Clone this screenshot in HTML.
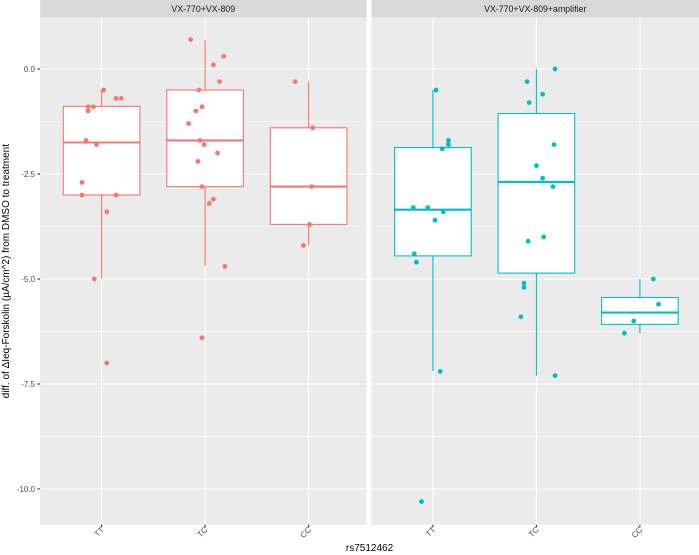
<!DOCTYPE html>
<html><head><meta charset="utf-8">
<style>
html,body{margin:0;padding:0;background:#fff;}
svg{display:block;font-family:"Liberation Sans",sans-serif;}
</style></head>
<body>
<svg id="chart" width="699" height="555" viewBox="0 0 699 555" xmlns="http://www.w3.org/2000/svg"></svg>
<script>
// ---- data ----
const panels = ["VX-770+VX-809", "VX-770+VX-809+amplifier"];
const categories = ["TT", "TC", "CC"];
const yTicks = [0, -2.5, -5, -7.5, -10];
const yTickLabels = ["0.0", "-2.5", "-5.0", "-7.5", "-10.0"];
// box stats per panel: [TT, TC, CC]
const whiskerHigh = [[-0.48, 0.69, -0.30], [-0.50, 0.00, -5.00]];
const q3 = [[-0.89, -0.50, -1.40], [-1.87, -1.06, -5.44]];
const median = [[-1.75, -1.70, -2.80], [-3.35, -2.69, -5.80]];
const q1 = [[-3.00, -2.80, -3.70], [-4.45, -4.86, -6.08]];
const whiskerLow = [[-4.99, -4.69, -4.20], [-7.19, -7.30, -6.29]];
// points
const p0_TT = [-0.5, -0.7, -0.7, -0.9, -0.9, -1.0, -1.7, -1.8, -2.7, -3.0, -3.0, -3.4, -5.0, -7.0];
const j0_TT = [0.02, 0.14, 0.19, -0.13, -0.08, -0.13, -0.15, -0.05, -0.19, -0.19, 0.14, 0.05, -0.07, 0.05];
const p0_TC = [0.7, 0.3, 0.1, -0.3, -0.5, -0.9, -1.0, -1.3, -1.7, -1.8, -2.0, -2.2, -2.8, -3.1, -3.2, -4.7, -6.4];
const j0_TC = [-0.14, 0.18, 0.08, 0.14, -0.06, -0.03, -0.09, -0.16, -0.05, -0.01, 0.12, -0.07, -0.03, 0.08, 0.04, 0.19, -0.03];
const p0_CC = [-0.3, -1.4, -2.8, -3.7, -4.2];
const j0_CC = [-0.13, 0.04, 0.03, 0.01, -0.05];
const p1_TT = [-0.5, -1.7, -1.8, -1.9, -3.3, -3.3, -3.4, -3.6, -4.4, -4.6, -7.2, -10.3];
const j1_TT = [0.03, 0.15, 0.15, 0.09, -0.19, -0.05, 0.10, 0.02, -0.18, -0.16, 0.07, -0.11];
const p1_TC = [0.0, -0.3, -0.6, -0.8, -1.8, -2.3, -2.6, -2.8, -4.0, -4.1, -5.1, -5.2, -5.9, -7.3];
const j1_TC = [0.18, -0.09, 0.06, -0.07, 0.17, 0.0, 0.06, 0.16, 0.07, -0.08, -0.12, -0.12, -0.15, 0.18];
const p1_CC = [-5.0, -5.6, -6.0, -6.29];
const j1_CC = [0.13, 0.18, -0.06, -0.15];
const points = [[p0_TT, p0_TC, p0_CC], [p1_TT, p1_TC, p1_CC]];
const jitters = [[j0_TT, j0_TC, j0_CC], [j1_TT, j1_TC, j1_CC]];

// ---- layout ----
const NS = "http://www.w3.org/2000/svg";
const svg = document.getElementById("chart");
const colors = ["#F8766D", "#00BFC4"];
const panelX = [[40.1, 366.5], [371.4, 699]];
const plotTop = 17.5, plotBot = 524.7, stripTop = 0;
const catStep = 103.5, catPad = 61.5;
function y(v) { return 69 + (0 - v) * 42; }
function x(p, c) { return panelX[p][0] + catPad + c * catStep; }
function mk(tag, attrs, parent) {
  const e = document.createElementNS(NS, tag);
  for (const k in attrs) e.setAttribute(k, attrs[k]);
  (parent || svg).appendChild(e);
  return e;
}

for (let p = 0; p < panels.length; p++) {
  const g = mk("g", {});
  
  
  const x0 = panelX[p][0], x1 = panelX[p][1];
  const bg = mk("rect", {x: x0, y: plotTop, width: x1 - x0, height: plotBot - plotTop, fill: "#EBEBEB"}, g);
  
  
  for (let i = 0; i < yTicks.length + 1; i++) {
    const v = 1.25 - i * 2.5;
    const yy = y(v);
    if (yy < plotTop || yy > plotBot) continue;
    mk("line", {x1: x0, x2: x1, y1: yy, y2: yy, stroke: "#fff", "stroke-width": 0.55}, g);
  }
  for (let i = 0; i < yTicks.length; i++) {
    const gl = mk("line", {x1: x0, x2: x1, y1: y(yTicks[i]), y2: y(yTicks[i]), stroke: "#fff", "stroke-width": 1.1}, g);
    
    
  }
  for (let c = 0; c < categories.length; c++) {
    const gl = mk("line", {x1: x(p, c), x2: x(p, c), y1: plotTop, y2: plotBot, stroke: "#fff", "stroke-width": 1.1}, g);
    
    
  }
  const st = mk("rect", {x: x0, y: stripTop, width: x1 - x0, height: plotTop - stripTop, fill: "#D9D9D9"}, g);
  
  
  const stt = mk("text", {x: (x0 + x1) / 2, y: 12, "text-anchor": "middle", "font-size": 8.8, fill: "#1A1A1A"}, g);
  stt.textContent = panels[p];
  
  
  for (let c = 0; c < categories.length; c++) {
    const cx = x(p, c), hw = 38.3, col = colors[p];
    const bx = mk("g", {}, g);
    
    
    mk("line", {x1: cx, x2: cx, y1: y(whiskerHigh[p][c]), y2: y(q3[p][c]), stroke: col, "stroke-width": 1.1}, bx);
    mk("line", {x1: cx, x2: cx, y1: y(q1[p][c]), y2: y(whiskerLow[p][c]), stroke: col, "stroke-width": 1.1}, bx);
    mk("rect", {x: cx - hw, y: y(q3[p][c]), width: 2 * hw, height: y(q1[p][c]) - y(q3[p][c]), fill: "#fff", stroke: col, "stroke-width": 1.1}, bx);
    const md = mk("line", {x1: cx - hw, x2: cx + hw, y1: y(median[p][c]), y2: y(median[p][c]), stroke: col, "stroke-width": 2.1}, bx);
    
    
    const pts = points[p][c], js = jitters[p][c];
    for (let i = 0; i < pts.length; i++) {
      const pt = mk("circle", {cx: cx + js[i] * catStep, cy: y(pts[i]), r: 2.4, fill: col}, bx);
      
      
    }
    mk("line", {x1: cx, x2: cx, y1: plotBot, y2: plotBot + 2.7, stroke: "#333", "stroke-width": 1.1}, g);
    const tl = mk("text", {x: 0, y: 0, "text-anchor": "end", "font-size": 8, fill: "#4D4D4D",
      transform: "translate(" + (cx + 3) + "," + (plotBot + 5.5) + ") rotate(-45)"}, g);
    tl.textContent = categories[c];
    
    
  }
}
for (let i = 0; i < yTicks.length; i++) {
  mk("line", {x1: 37.4, x2: 40.1, y1: y(yTicks[i]), y2: y(yTicks[i]), stroke: "#333", "stroke-width": 1.1});
  const t = mk("text", {x: 35, y: y(yTicks[i]) + 2.9, "text-anchor": "end", "font-size": 8, fill: "#4D4D4D"});
  t.textContent = yTickLabels[i];
  
  
}
const yt = mk("text", {x: 0, y: 0, "text-anchor": "middle", "font-size": 10, fill: "#000",
  transform: "translate(9," + ((plotTop + plotBot) / 2) + ") rotate(-90)"});
yt.textContent = "diff. of \u0394Ieq-Forskolin (\u00B5A/cm^2) from DMSO to treatment";


const xt = mk("text", {x: (40.1 + 699) / 2, y: 551, "text-anchor": "middle", "font-size": 10, fill: "#000"});
xt.textContent = "rs7512462";


</script>
</body></html>
